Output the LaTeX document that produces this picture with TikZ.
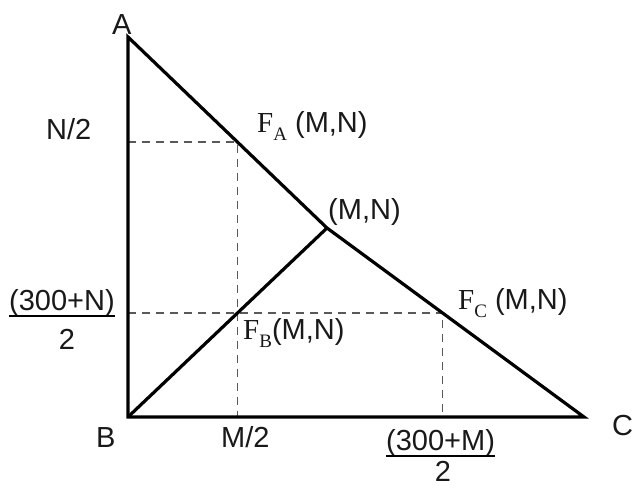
\documentclass[tikz,border=0pt]{standalone}
\usepackage{fontspec}
\setmainfont{Liberation Sans}
\newfontfamily\tmsfont{Liberation Serif}
\usetikzlibrary{calc}
\newcommand{\FSub}[1]{{\tmsfont F\raisebox{-0.25em}{\fontsize{19}{19}\selectfont #1}}}
\begin{document}
\begin{tikzpicture}[x=1pt,y=-1pt,
  solidline/.style={line width=3.2pt,line join=miter,black},
  guide/.style={line width=1.1pt,gray!70!black,dash pattern=on 8pt off 6pt},
  lbl/.style={inner sep=0pt,anchor=base west,font=\fontsize{29}{31}\selectfont,text=black!90}]
\useasboundingbox[fill=white] (0,0) rectangle (633,489);
% vertices
\coordinate (A) at (128,37);
\coordinate (B) at (128,417);
\coordinate (C) at (584,417);
\coordinate (MN) at (327,228);
\coordinate (FA) at ($(A)!0.55!(MN)$);
\coordinate (FC) at ($(MN)!0.45!(C)$);
\coordinate (FB) at ($(B)!0.561!(MN)$);
\coordinate (NA) at (A |- FA);
\coordinate (NB) at (A |- FC);
% guides
\draw[guide] (NA) -- (FA) -- (FA |- B);
\draw[guide] (NB) -- (FC) -- (FC |- B);
% triangle
\draw[solidline] (A) -- (B) -- (C) -- (MN) -- cycle;
\draw[solidline] (B) -- (MN);
% labels
\node[lbl] (lA) at (112,35) {A};
\node[lbl] (lB) at (96,448) {B};
\node[lbl] (lC) at (612,436) {C};
\node[lbl] (lN2) at (46,140) {N/2};
\node[lbl] (lM2) at (221,448) {M/2};
\node[lbl] (lFA) at (257,133) {\FSub{A} (M,N)};
\node[lbl] (lMN) at (328,220) {(M,N)};
\node[lbl] (lFB) at (243,340) {\FSub{B}(M,N)};
\node[lbl] (lFC) at (458,310) {\FSub{C} (M,N)};
% fractions
\node[lbl] (numN) at (9,311) {(300+N)};
\draw[line width=1.4pt] ([yshift=-5pt]numN.base west) -- ([yshift=-5pt]numN.base east);
\node[lbl,anchor=base] (denN) at (67,350) {2};
\node[lbl] (numM) at (386,451) {(300+M)};
\draw[line width=1.4pt] ([yshift=-5pt]numM.base west) -- ([yshift=-5pt]numM.base east);
\node[lbl,anchor=base] (denM) at (443,482) {2};
\end{tikzpicture}
\end{document}
